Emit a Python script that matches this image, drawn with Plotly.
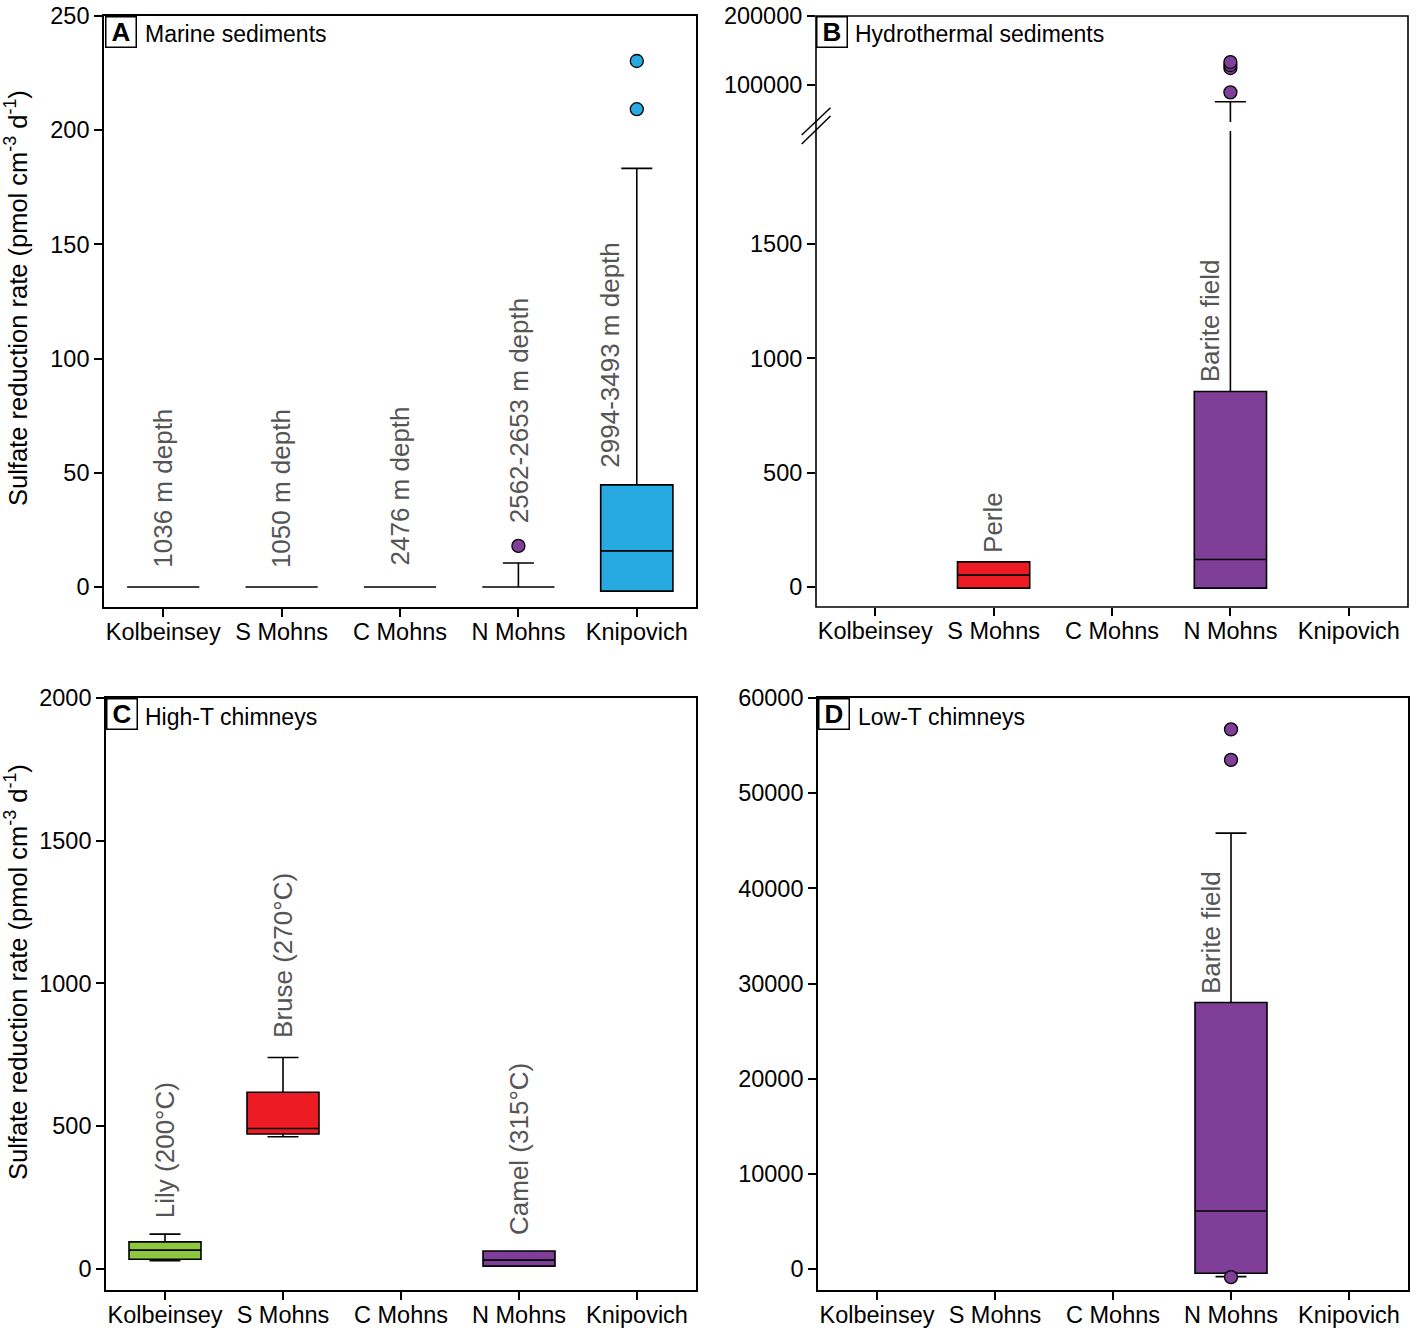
import plotly.graph_objects as go

W, H = 1417, 1336

regions = ["Kolbeinsey", "S Mohns", "C Mohns", "N Mohns", "Knipovich"]
region_colors = ["#8DC63F", "#ED1C24", "#F7941D", "#7F3F98", "#27AAE1"]

# A - marine sediments
a_regions = ["Kolbeinsey", "S Mohns", "C Mohns", "N Mohns", "Knipovich"]
a_q1 = [0, 0, 0, 0, -1.8]
a_median = [0, 0, 0, 0, 15.8]
a_q3 = [0, 0, 0, 0, 44.7]
a_lower = [0, 0, 0, 0, -1.8]
a_upper = [0, 0, 0, 10.5, 183.3]
a_out_x = ["N Mohns", "Knipovich", "Knipovich"]
a_out_y = [18.0, 209.2, 230.3]

# B - hydrothermal sediments (broken axis)
b_regions = ["S Mohns", "N Mohns"]
b_q1 = [-5, -5]
b_median = [52, 120]
b_q3 = [110, 855]
b_lower = [-5, -5]
b_upper = [110, 75800]
b_out_x = ["N Mohns", "N Mohns", "N Mohns", "N Mohns"]
b_out_y = [89400, 124600, 129000, 133300]

# C - high-T chimneys
c_regions = ["Kolbeinsey", "S Mohns", "N Mohns"]
c_q1 = [34, 473, 10]
c_median = [66, 492, 31]
c_q3 = [95, 619, 63]
c_lower = [29, 463, 10]
c_upper = [122, 741, 63]

# D - low-T chimneys
d_regions = ["N Mohns"]
d_q1 = [-450]
d_median = [6100]
d_q3 = [28000]
d_lower = [-800]
d_upper = [45800]
d_out_x = ["N Mohns", "N Mohns", "N Mohns"]
d_out_y = [-850, 53500, 56700]

# site labels: (region, text, anchor value, xshift px, yshift px)
a_sites = [("Kolbeinsey", "1036 m depth", 0, 0, 17),
           ("S Mohns", "1050 m depth", 0, 0, 17),
           ("C Mohns", "2476 m depth", 0, 0, 19),
           ("N Mohns", "2562-2653 m depth", 18.0, 0, 21),
           ("Knipovich", "2994-3493 m depth", 44.7, -27, 15)]
b_sites = [("S Mohns", "Perle", 110, 0, 7),
           ("N Mohns", "Barite field", 855, -20, 7)]
c_sites = [("Kolbeinsey", "Lily (200°C)", 122, 0, 14),
           ("S Mohns", "Bruse (270°C)", 741, 0, 17),
           ("N Mohns", "Camel (315°C)", 63, 0, 14)]
d_sites = [("N Mohns", "Barite field", 28000, -20, 6)]

FONT = "Liberation Sans, Arial, sans-serif"
color_of = dict(zip(regions, region_colors))


def px(x):
    return x / W


def py(y):
    return 1 - y / H


fig = go.Figure()


def add_boxes(regs, q1, med, q3, lo, hi, xa, ya):
    for i, r in enumerate(regs):
        fig.add_trace(go.Box(
            x=[r], q1=[q1[i]], median=[med[i]], q3=[q3[i]],
            lowerfence=[lo[i]], upperfence=[hi[i]],
            fillcolor=color_of[r], line=dict(color="black", width=1.6),
            width=0.61, whiskerwidth=0.43, boxpoints=False,
            xaxis=xa, yaxis=ya, showlegend=False))


def add_outliers(xs, ys, xa, ya):
    fig.add_trace(go.Scatter(
        x=xs, y=ys, mode="markers",
        marker=dict(size=13, color=[color_of[r] for r in xs],
                    line=dict(color="black", width=1.3)),
        xaxis=xa, yaxis=ya, showlegend=False))


add_boxes(a_regions, a_q1, a_median, a_q3, a_lower, a_upper, "x", "y")
add_outliers(a_out_x, a_out_y, "x", "y")

add_boxes(b_regions, b_q1, b_median, b_q3, b_lower, b_upper, "x2", "y2")
# upper part of the broken axis: only the whisker top is visible there
fig.add_trace(go.Box(
    x=["N Mohns"], q1=[0], median=[0], q3=[0], lowerfence=[0],
    upperfence=[b_upper[1]], fillcolor=color_of["N Mohns"],
    line=dict(color="black", width=1.6), width=0.61, whiskerwidth=0.43,
    xaxis="x2", yaxis="y5", showlegend=False))
add_outliers(b_out_x, b_out_y, "x2", "y5")

add_boxes(c_regions, c_q1, c_median, c_q3, c_lower, c_upper, "x3", "y3")

add_outliers(d_out_x, d_out_y, "x4", "y4")
add_boxes(d_regions, d_q1, d_median, d_q3, d_lower, d_upper, "x4", "y4")

axis_common = dict(showline=True, linecolor="black", linewidth=1.6, mirror=True,
                   ticks="outside", ticklen=8, tickwidth=1.5, tickcolor="black",
                   showgrid=False, zeroline=False, automargin=False,
                   ticklabeloverflow="allow",
                   tickfont=dict(size=23.5, color="black", family=FONT))
x_common = dict(axis_common, type="category", categoryorder="array",
                categoryarray=regions, range=[-0.5, 4.5], ticklabelstandoff=-5)

dom_A = [px(104), px(696)]
dom_B = [px(816), px(1408)]
dom_C = [px(106), px(696)]
dom_D = [px(818), px(1408)]
top_row = [py(607), py(16)]
bot_row = [py(1290), py(698)]

fig.update_layout(
    width=W, height=H, margin=dict(l=0, r=0, t=0, b=0),
    paper_bgcolor="white", plot_bgcolor="white",
    font=dict(family=FONT, color="black"),
    boxmode="overlay", showlegend=False,
    xaxis=dict(x_common, domain=dom_A, anchor="y"),
    yaxis=dict(axis_common, domain=top_row, anchor="x", range=[-8.76, 250],
               tickvals=[0, 50, 100, 150, 200, 250], tickformat="d"),
    xaxis2=dict(x_common, domain=dom_B, anchor="y2", showline=False),
    yaxis2=dict(axis_common, domain=[py(607), py(131)], anchor="x2",
                range=[-87.5, 1994], tickvals=[0, 500, 1000, 1500],
                tickformat="d", showline=False),
    yaxis5=dict(axis_common, domain=[py(122), py(16)], anchor="x2",
                range=[46400, 200000], tickvals=[100000, 200000],
                tickformat="d", showline=False),
    xaxis3=dict(x_common, domain=dom_C, anchor="y3"),
    yaxis3=dict(axis_common, domain=bot_row, anchor="x3", range=[-73.6, 2000],
                tickvals=[0, 500, 1000, 1500, 2000], tickformat="d"),
    xaxis4=dict(x_common, domain=dom_D, anchor="y4"),
    yaxis4=dict(axis_common, domain=bot_row, anchor="x4", range=[-2207, 60000],
                tickvals=[0, 10000, 20000, 30000, 40000, 50000, 60000],
                tickformat="d"),
)

# frame and break marks of panel B
fig.add_shape(type="rect", xref="paper", yref="paper",
              x0=dom_B[0], x1=dom_B[1], y0=py(607), y1=py(16),
              line=dict(color="black", width=1.6))
for y0, y1 in [(135, 107.7), (144, 116)]:
    fig.add_shape(type="line", xref="paper", yref="paper",
                  x0=px(801.7), x1=px(830.5), y0=py(y0), y1=py(y1),
                  line=dict(color="black", width=1.5))

# panel letters and titles
panels = [("A", "Marine sediments", 105, 16, 143, 34),
          ("B", "Hydrothermal sediments", 816, 16, 853, 34),
          ("C", "High-T chimneys", 106, 698, 143, 717),
          ("D", "Low-T chimneys", 818, 698, 856, 717)]
for letter, title, bx, by, tx, ty in panels:
    fig.add_annotation(xref="paper", yref="paper", x=px(bx), y=py(by),
                       xanchor="left", yanchor="top", text="<b>%s</b>" % letter,
                       showarrow=False, width=29, height=29, borderpad=0,
                       bordercolor="black", borderwidth=1.5, bgcolor="white",
                       font=dict(size=26, color="black", family=FONT))
    fig.add_annotation(xref="paper", yref="paper", x=px(tx), y=py(ty),
                       xanchor="left", yanchor="middle", text=title,
                       showarrow=False, font=dict(size=23, color="black", family=FONT))

# y axis titles
ytitle = "Sulfate reduction rate (pmol cm<sup>-3</sup> d<sup>-1</sup>)"
for yc in [298, 972]:
    fig.add_annotation(xref="paper", yref="paper", x=px(16), y=py(yc),
                       xanchor="center", yanchor="middle", text=ytitle,
                       textangle=-90, showarrow=False,
                       font=dict(size=25.5, color="black", family=FONT))

# site labels
for sites, xa, ya in [(a_sites, "x", "y"), (b_sites, "x2", "y2"),
                      (c_sites, "x3", "y3"), (d_sites, "x4", "y4")]:
    for reg, text, val, dx, dy in sites:
        fig.add_annotation(xref=xa, yref=ya, x=regions.index(reg), y=val,
                           xanchor="center", yanchor="bottom", text=text,
                           textangle=-90, showarrow=False, xshift=dx, yshift=dy,
                           font=dict(size=26, color="#555555", family=FONT))

# drop the default 8px page margin so the figure fills the window exactly
fig.write_html("out.html", config={"displayModeBar": False},
               post_script="document.body.style.margin = '0px';")
